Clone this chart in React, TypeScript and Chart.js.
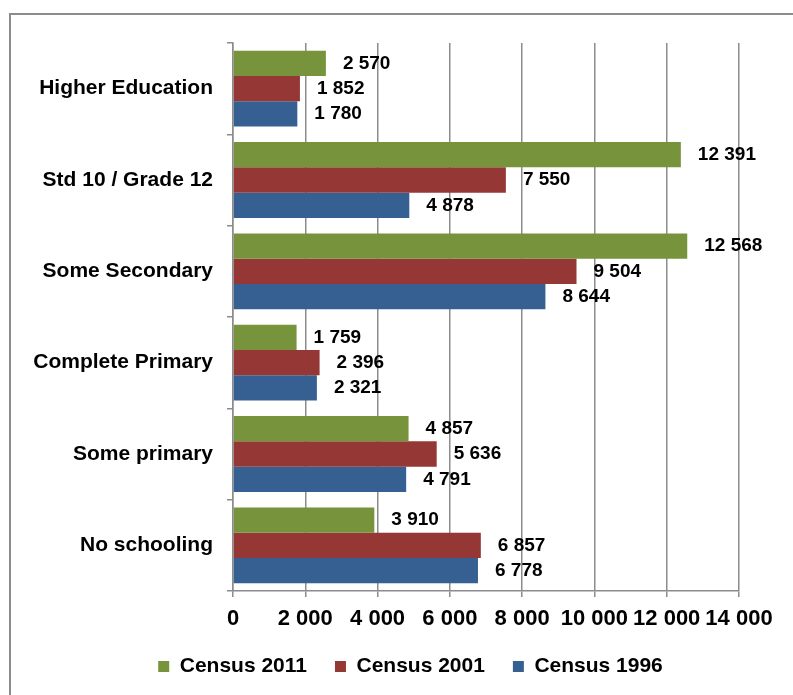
import React, { useEffect, useRef } from "react";
import { Chart, registerables } from "chart.js";

Chart.register(...registerables);

// Education level counts by census year
const categories = [
  "Higher Education",
  "Std 10 / Grade 12",
  "Some Secondary",
  "Complete Primary",
  "Some primary",
  "No schooling",
];
const census2011 = [2570, 12391, 12568, 1759, 4857, 3910];
const census2001 = [1852, 7550, 9504, 2396, 5636, 6857];
const census1996 = [1780, 4878, 8644, 2321, 4791, 6778];
const seriesNames = ["Census 2011", "Census 2001", "Census 1996"];
const seriesColors = ["#77933c", "#953735", "#376092"];
const xMax = 14000;
const xStep = 2000;

const FONT = "'Liberation Sans', Arial, sans-serif";

// thousands separated by a space: 12391 -> "12 391"
const fmt = (n: number) =>
  Math.round(n).toString().replace(/\B(?=(\d{3})+(?!\d))/g, " ");

const framePlugin = {
  id: "frame",
  beforeDraw(chart: any) {
    const { ctx, width, height } = chart;
    ctx.save();
    ctx.fillStyle = "#ffffff";
    ctx.fillRect(0, 0, width, height);
    ctx.strokeStyle = "#8c8c8c";
    ctx.lineWidth = 2;
    ctx.strokeRect(10, 14, width + 50, height + 50);
    ctx.restore();
  },
};

// the chart frame continues past the right edge, so the legend is centred on the wider frame
const legendShiftPlugin = {
  id: "legendShift",
  afterLayout(chart: any) {
    const lg = chart.legend;
    if (!lg) return;
    lg.left += 36;
    lg.right += 36;
  },
};

const valueLabelPlugin = {
  id: "valueLabels",
  afterDatasetsDraw(chart: any) {
    const { ctx } = chart;
    ctx.save();
    ctx.font = `bold 19px ${FONT}`;
    ctx.fillStyle = "#000000";
    ctx.textAlign = "left";
    ctx.textBaseline = "middle";
    chart.data.datasets.forEach((ds: any, di: number) => {
      const meta = chart.getDatasetMeta(di);
      meta.data.forEach((bar: any, i: number) => {
        ctx.fillText(fmt(ds.data[i]), bar.x + 17, bar.y);
      });
    });
    ctx.restore();
  },
};

export default function App() {
  const canvasRef = useRef<HTMLCanvasElement | null>(null);

  useEffect(() => {
    if (!canvasRef.current) return;
    const series = [census2011, census2001, census1996];
    const chart = new Chart(canvasRef.current, {
      type: "bar",
      data: {
        labels: categories,
        datasets: series.map((data, i) => ({
          label: seriesNames[i],
          data,
          backgroundColor: seriesColors[i],
          borderWidth: 0,
          barPercentage: 1,
          categoryPercentage: 0.83,
        })),
      },
      options: {
        indexAxis: "y",
        responsive: false,
        animation: false,
        devicePixelRatio: 1,
        layout: { padding: { left: 10, right: 54, top: 43, bottom: 8 } },
        scales: {
          x: {
            min: 0,
            max: xMax,
            ticks: {
              stepSize: xStep,
              padding: 9,
              color: "#000",
              font: { family: FONT, size: 22, weight: "bold" },
              callback: (v: any) => fmt(Number(v)),
              maxRotation: 0,
              autoSkip: false,
            },
            grid: {
              color: "#8c8c8c",
              lineWidth: 1.5,
              tickLength: 6,
            },
            border: { color: "#8c8c8c", width: 1.5 },
            afterFit: (s: any) => {
              s.height = 37;
              s.paddingLeft = 0;
              s.paddingRight = 0;
            },
          },
          y: {
            ticks: {
              padding: 14,
              color: "#000",
              font: { family: FONT, size: 21, weight: "bold" },
              autoSkip: false,
            },
            grid: {
              drawOnChartArea: false,
              color: "#8c8c8c",
              lineWidth: 1.5,
              tickLength: 6,
              offset: true,
            },
            border: { color: "#8c8c8c", width: 1.5 },
            afterFit: (s: any) => {
              s.width = 223;
              s.paddingTop = 0;
              s.paddingBottom = 0;
            },
          },
        },
        plugins: {
          legend: {
            position: "bottom",
            labels: {
              boxWidth: 11,
              boxHeight: 11,
              padding: 28,
              color: "#000",
              font: { family: FONT, size: 21, weight: "bold" },
            },
          },
          tooltip: { enabled: false },
        },
      },
      plugins: [framePlugin, legendShiftPlugin, valueLabelPlugin],
    } as any);
    return () => chart.destroy();
  }, []);

  return (
    <div
      style={{
        position: "fixed",
        left: 0,
        top: 0,
        width: 793,
        height: 695,
        overflow: "hidden",
        background: "#fff",
      }}
    >
      <canvas
        ref={canvasRef}
        width={793}
        height={695}
        style={{ display: "block", width: 793, height: 695 }}
      />
    </div>
  );
}
